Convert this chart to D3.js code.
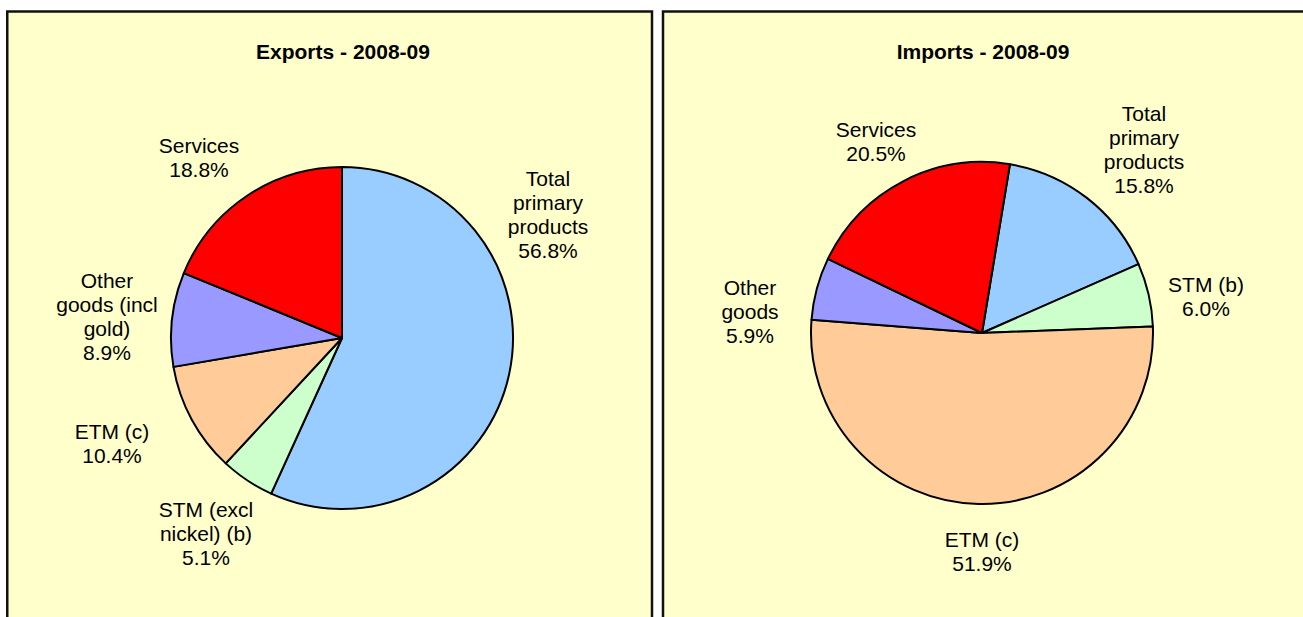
<!DOCTYPE html>
<html>
<head>
<meta charset="utf-8">
<title>Exports and imports 2008-09</title>
<style>
  body { margin: 0; background: #fff; }
  svg { display: block; font-family: Arial, "Liberation Sans", sans-serif; }
</style>
</head>
<body>
<div id="chart"></div>
<script src="https://cdn.jsdelivr.net/npm/d3@7"></script>
<script>
// categories and values
const categories = ["Total primary products", "STM", "ETM (c)", "Other goods", "Services"];
const exportValues = [56.8, 5.1, 10.4, 8.9, 18.8];
const importValues = [15.8, 6.0, 51.9, 5.9, 20.5];

const exportLabels = [
  ["Total", "primary", "products", "56.8%"],
  ["STM (excl", "nickel) (b)", "5.1%"],
  ["ETM (c)", "10.4%"],
  ["Other", "goods (incl", "gold)", "8.9%"],
  ["Services", "18.8%"]
];
const importLabels = [
  ["Total", "primary", "products", "15.8%"],
  ["STM (b)", "6.0%"],
  ["ETM (c)", "51.9%"],
  ["Other", "goods", "5.9%"],
  ["Services", "20.5%"]
];

const colors = ["#99ccff", "#ccffcc", "#ffcc99", "#9999ff", "#ff0000"];

const width = 1303, height = 617;
const svg = d3.select("#chart").append("svg")
  .attr("width", width)
  .attr("height", height);

const color = d3.scaleOrdinal().domain(categories).range(colors);
const radius = 171;
const lineH = 24;

// label anchors (x centre, first baseline) relative to the pie centre
const panels = [
  {
    title: "Exports - 2008-09", values: exportValues, labels: exportLabels,
    box: [7.25, 11.5, 652, 640], cx: 342, cy: 338, start: 0,
    labelPos: [[206, -152], [-136, 179], [-230, 101], [-235, -50], [-143, -185]]
  },
  {
    title: "Imports - 2008-09", values: importValues, labels: importLabels,
    box: [663, 11.5, 1320, 640], cx: 982, cy: 333, start: 9.4,
    labelPos: [[162, -212], [224, -41], [0, 214], [-232, -38], [-106, -196]]
  }
];

panels.forEach(p => {
  const g = svg.append("g");

  g.append("rect")
    .attr("x", p.box[0]).attr("y", p.box[1])
    .attr("width", p.box[2] - p.box[0]).attr("height", p.box[3] - p.box[1])
    .attr("fill", "#ffffcc")
    .attr("stroke", "#111")
    .attr("stroke-width", 2.5);

  g.append("text")
    .attr("x", p.cx + 1).attr("y", 59)
    .attr("text-anchor", "middle")
    .attr("font-size", 21).attr("font-weight", "bold")
    .text(p.title);

  const a0 = p.start * Math.PI / 180;
  const pie = d3.pie().sort(null).startAngle(a0).endAngle(a0 + 2 * Math.PI);
  const arc = d3.arc().innerRadius(0).outerRadius(radius);

  const pg = g.append("g").attr("transform", `translate(${p.cx},${p.cy})`);
  pg.selectAll("path")
    .data(pie(p.values))
    .join("path")
      .attr("d", arc)
      .attr("fill", (d, i) => color(categories[i]))
      .attr("stroke", "#000")
      .attr("stroke-width", 2)
      .attr("stroke-linejoin", "round");

  pg.selectAll("text.lbl")
    .data(p.labels)
    .join("text")
      .attr("class", "lbl")
      .attr("text-anchor", "middle")
      .attr("font-size", 21)
      .attr("fill", "#000")
      .each(function(lines, i) {
        const t = d3.select(this);
        const [lx, ly] = p.labelPos[i];
        lines.forEach((s, k) => {
          t.append("tspan").attr("x", lx).attr("y", ly + k * lineH).text(s);
        });
      });
});
</script>
</body>
</html>
